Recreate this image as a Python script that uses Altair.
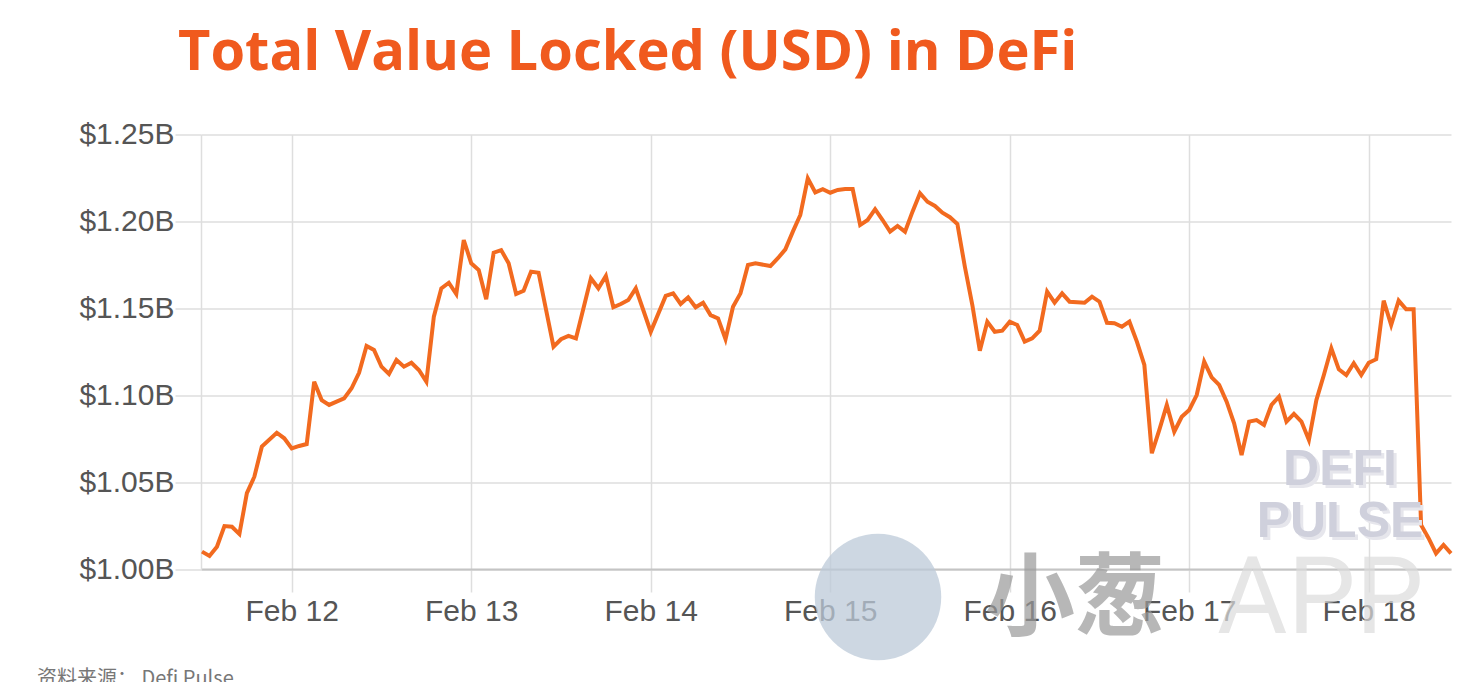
import altair as alt
import pandas as pd

title_text = "Total Value Locked (USD) in DeFi"
source_text = "资料来源： Defi Pulse"
start_time = "2020-02-11T12:00:00Z"

# hours after Feb 11 12:00 UTC
hours = [0, 1, 2, 3, 4, 5, 6, 7, 8, 10, 11, 12, 13, 14, 15, 16, 17, 18, 19, 20,
         21, 22, 23, 24, 25, 26, 27, 28, 29, 30, 31, 32, 33, 34, 35, 36, 37, 38, 39, 40,
         41, 42, 43, 44, 45, 47, 48, 49, 50, 52, 53, 54, 55, 56, 57, 58, 60, 62, 63, 64,
         65, 66, 67, 68, 69, 70, 71, 72, 73, 74, 76, 77, 78, 79, 80, 81, 82, 83, 84, 85,
         86, 87, 88, 89, 90, 91, 92, 93, 94, 95, 96, 97, 98, 99, 100, 101, 102, 103, 104, 105,
         106, 107, 108, 109, 110, 111, 112, 113, 114, 115, 116, 118, 119, 120, 121, 122, 123, 124, 125, 126,
         127, 128, 129, 130, 131, 132, 133, 134, 135, 136, 137, 138, 139, 140, 141, 142, 143, 144, 145, 146,
         147, 148, 149, 150, 151, 152, 153, 154, 155, 156, 157, 158, 159, 160, 161, 162, 163, 164, 165, 166,
         167]

# total value locked, billions of USD
tvl_billion = [1.0100, 1.0075, 1.0128, 1.0247, 1.0243, 1.0201, 1.0436, 1.0531, 1.0704, 1.0784,
               1.0752, 1.0694, 1.0708, 1.0719, 1.1078, 1.0972, 1.0944, 1.0963, 1.0982, 1.1040,
               1.1129, 1.1283, 1.1260, 1.1164, 1.1122, 1.1203, 1.1164, 1.1187, 1.1145, 1.1078,
               1.1452, 1.1615, 1.1647, 1.1582, 1.1893, 1.1759, 1.1720, 1.1552, 1.1820, 1.1835,
               1.1759, 1.1582, 1.1601, 1.1711, 1.1705, 1.1279, 1.1322, 1.1341, 1.1327, 1.1673,
               1.1615, 1.1686, 1.1506, 1.1525, 1.1548, 1.1615, 1.1365, 1.1571, 1.1586, 1.1525,
               1.1563, 1.1506, 1.1532, 1.1461, 1.1442, 1.1322, 1.1509, 1.1586, 1.1749, 1.1759,
               1.1743, 1.1788, 1.1839, 1.1941, 1.2037, 1.2248, 1.2167, 1.2185, 1.2165, 1.2181,
               1.2186, 1.2186, 1.1979, 1.2008, 1.2070, 1.2008, 1.1941, 1.1974, 1.1941, 1.2056,
               1.2162, 1.2113, 1.2089, 1.2050, 1.2024, 1.1985, 1.1739, 1.1519, 1.1256, 1.1423,
               1.1365, 1.1371, 1.1423, 1.1404, 1.1308, 1.1327, 1.1371, 1.1596, 1.1532, 1.1586,
               1.1538, 1.1532, 1.1567, 1.1538, 1.1417, 1.1414, 1.1394, 1.1423, 1.1308, 1.1174,
               1.0666, 1.0800, 1.0944, 1.0790, 1.0876, 1.0915, 1.1001, 1.1193, 1.1103, 1.1059,
               1.0963, 1.0838, 1.0656, 1.0848, 1.0857, 1.0829, 1.0944, 1.0991, 1.0848, 1.0892,
               1.0848, 1.0742, 1.0972, 1.1116, 1.1270, 1.1149, 1.1116, 1.1184, 1.1116, 1.1187,
               1.1207, 1.1544, 1.1404, 1.1544, 1.1494, 1.1494, 1.0253, 1.0177, 1.0090, 1.0138,
               1.0090]

day_ticks = [12, 13, 14, 15, 16, 17, 18]
y_ticks = [1.00, 1.05, 1.10, 1.15, 1.20, 1.25]
watermark_defi = ["DEFI", "PULSE"]
watermark_app = ["小葱", "APP"]

assert len(hours) == len(tvl_billion)

start = pd.Timestamp(start_time)
df = pd.DataFrame({
    "time": [(start + pd.Timedelta(hours=h)).strftime("%Y-%m-%dT%H:%M:%SZ") for h in hours],
    "tvl": tvl_billion,
})

W, H = 1250, 434.5
grid_col = "#dedede"
label_col = "#555555"
orange = "#f26a1f"

x_enc = alt.X(
    "time:T",
    title=None,
    scale=alt.Scale(
        type="utc",
        domain=[alt.DateTime(year=2020, month=2, date=11, hours=11, minutes=52, utc=True),
                alt.DateTime(year=2020, month=2, date=18, hours=11, minutes=0, utc=True)],
    ),
    axis=alt.Axis(
        values=[alt.DateTime(year=2020, month=2, date=d, utc=True) for d in day_ticks],
        labelExpr="utcFormat(datum.value, '%b %d')",
        grid=True, gridColor=grid_col, gridWidth=1.5,
        domainColor="#c4c4c4", domainWidth=2,
        tickColor=grid_col, tickWidth=1.5, tickSize=23,
        labelFont="Liberation Sans", labelFontSize=30, labelColor=label_col,
        labelPadding=4, labelFlush=False, labelOverlap=False,
    ),
)

y_enc = alt.Y(
    "tvl:Q",
    title=None,
    scale=alt.Scale(domain=[1.0, 1.25], zero=False, nice=False),
    axis=alt.Axis(
        values=y_ticks,
        labelExpr="'$' + format(datum.value, '.2f') + 'B'",
        grid=True, gridColor=grid_col, gridWidth=1.5,
        domainColor=grid_col, domainWidth=1.5,
        tickColor=grid_col, tickWidth=1.5, tickSize=26,
        labelFont="Liberation Sans", labelFontSize=30, labelColor=label_col,
        labelPadding=1, labelOverlap=False,
    ),
)

line = alt.Chart(df).mark_line(color=orange, strokeWidth=4).encode(x=x_enc, y=y_enc)


def text_layer(txt, x, y, **kw):
    return alt.Chart(pd.DataFrame({"t": [txt]})).mark_text(**kw).encode(
        text="t:N", x=alt.value(x), y=alt.value(y))


title = text_layer(title_text, -23, -64.5, font="Open Sans", fontWeight="bold", fontSize=56,
                   color="#f05a1e", align="left", baseline="alphabetic")
source = text_layer(source_text, -164, 550, font="Noto Sans CJK SC", fontSize=20,
                    color="#777777", align="left", baseline="alphabetic")

circle = alt.Chart(pd.DataFrame({"t": ["logo"]})).mark_circle(
    size=16000, color="#bccad8", opacity=0.75).encode(x=alt.value(677), y=alt.value(462.5))

app_cn = text_layer(watermark_app[0], 784, 493, font="Noto Sans CJK SC", fontWeight="bold",
                    fontSize=90, color="#9a9a9a", opacity=0.7, align="left", baseline="alphabetic")
app_en = text_layer(watermark_app[1], 1016, 498.5, font="Roboto", fontWeight=400,
                    fontSize=108, color="#dcdcdc", opacity=0.7, align="left", baseline="alphabetic")

defi_sh = text_layer(watermark_defi[0], 1142, 353, font="Liberation Sans", fontWeight="bold",
                     fontSize=50, color="#e6e6ec", align="center", baseline="alphabetic")
pulse_sh = text_layer(watermark_defi[1], 1142, 405, font="Liberation Sans", fontWeight="bold",
                      fontSize=50, color="#e6e6ec", align="center", baseline="alphabetic")
defi = text_layer(watermark_defi[0], 1139, 350.5, font="Liberation Sans", fontWeight="bold",
                  fontSize=50, color="#cfd0dc", align="center", baseline="alphabetic")
pulse = text_layer(watermark_defi[1], 1139, 402.5, font="Liberation Sans", fontWeight="bold",
                   fontSize=50, color="#cfd0dc", align="center", baseline="alphabetic")

chart = alt.layer(
    line, defi_sh, pulse_sh, defi, pulse, circle, app_cn, app_en, title, source
).properties(
    width=W, height=H,
    padding={"left": 193, "top": 126.5, "right": 19, "bottom": 113},
    autosize=alt.AutoSizeParams(type="none"),
    background="white",
).configure_view(stroke=None)

chart.save("out.html", embed_options={"renderer": "svg", "actions": False})
